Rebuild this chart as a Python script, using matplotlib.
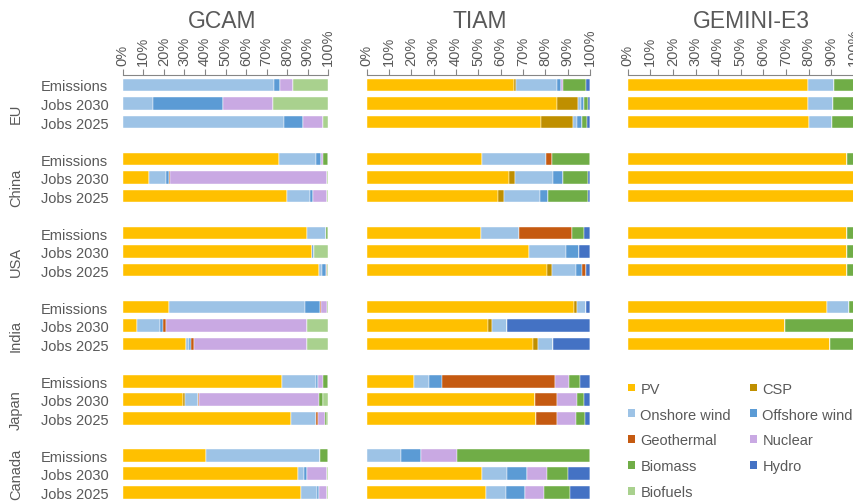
import matplotlib
matplotlib.use("Agg")
import matplotlib.pyplot as plt
from matplotlib.patches import Patch
from matplotlib.transforms import blended_transform_factory

plt.rcParams['font.family'] = ['Liberation Sans', 'DejaVu Sans']

# technologies, in stacking order
techs = ['PV', 'CSP', 'Onshore wind', 'Offshore wind', 'Geothermal',
         'Nuclear', 'Biomass', 'Hydro', 'Biofuels']
colors = ['#FFC000', '#BF8F00', '#9DC3E6', '#5B9BD5', '#C55A11',
          '#C9A9E3', '#70AD47', '#4472C4', '#A9D18E']

regions = ['EU', 'China', 'USA', 'India', 'Japan', 'Canada']
bar_labels = ['Emissions', 'Jobs 2030', 'Jobs 2025']

# shares in %, one row per bar (region x [Emissions, Jobs 2030, Jobs 2025]),
# columns follow techs
gcam_shares = [
    [0, 0, 73.7, 2.8, 0, 6.3, 0, 0, 17.2],
    [0, 0, 14.6, 34.2, 0, 24.5, 0, 0, 26.7],
    [0, 0, 78.3, 9.4, 0, 9.5, 0, 0, 2.8],
    [76.2, 0, 18.0, 2.1, 0.3, 1.0, 2.4, 0, 0],
    [12.6, 0, 8.6, 1.1, 0.8, 76.3, 0, 0, 0.6],
    [80.1, 0, 11.1, 1.2, 0.4, 6.8, 0, 0, 0.4],
    [89.6, 0, 9.3, 0, 0, 0, 1.1, 0, 0],
    [91.9, 0, 0, 1.1, 0, 0, 0, 0, 7.0],
    [95.6, 0, 1.1, 2.0, 0.7, 0, 0, 0, 0.6],
    [22.5, 0, 66.2, 7.3, 0.6, 2.6, 0.8, 0, 0],
    [7.0, 0, 11.3, 1.5, 1.3, 68.5, 0, 0, 10.4],
    [30.8, 0, 1.3, 1.0, 1.6, 54.9, 0, 0, 10.4],
    [77.5, 0, 16.7, 0.6, 0, 2.4, 2.8, 0, 0],
    [29.5, 0.8, 6.2, 0, 0.6, 58.5, 2.0, 0, 2.4],
    [82.0, 0, 12.2, 0, 0.8, 3.6, 0.8, 0, 0.6],
    [40.5, 0, 55.4, 0, 0, 0, 4.1, 0, 0],
    [85.1, 0, 3.2, 1.5, 0, 9.7, 0, 0, 0.5],
    [86.5, 0, 8.0, 1.0, 0, 4.0, 0, 0, 0.5],
]

tiam_shares = [
    [66.0, 0.7, 18.7, 1.6, 0, 1.0, 10.2, 1.8, 0],
    [85.4, 9.2, 1.2, 1.6, 0, 0, 1.7, 0.9, 0],
    [78.2, 14.3, 1.6, 2.5, 0, 0, 1.9, 1.5, 0],
    [51.5, 0, 28.8, 0, 2.7, 0, 17.0, 0, 0],
    [63.9, 2.5, 17.0, 4.6, 0, 0, 11.0, 1.0, 0],
    [58.8, 2.7, 16.1, 3.4, 0, 0, 18.0, 1.0, 0],
    [51.3, 0, 16.9, 0, 23.6, 0, 5.5, 2.7, 0],
    [72.7, 0, 16.7, 5.7, 0, 0, 0, 4.9, 0],
    [80.7, 2.3, 10.6, 3.0, 1.5, 0, 0, 1.9, 0],
    [92.7, 1.6, 3.9, 0, 0, 0, 0, 1.8, 0],
    [54.3, 1.8, 6.6, 0, 0, 0, 0, 37.3, 0],
    [74.6, 2.1, 6.6, 0, 0, 0, 0, 16.7, 0],
    [21.2, 0, 6.7, 6.0, 50.6, 6.3, 4.6, 4.6, 0],
    [75.4, 0, 0, 0, 9.7, 9.1, 3.3, 2.5, 0],
    [75.8, 0, 0, 0, 9.6, 8.4, 4.0, 2.2, 0],
    [0, 0, 15.4, 9.0, 0, 16.1, 59.5, 0, 0],
    [51.8, 0, 11.0, 8.8, 0, 9.0, 9.5, 9.9, 0],
    [53.3, 0, 9.0, 8.7, 0, 8.5, 11.7, 8.8, 0],
]

# GEMINI-E3 has no Japan / Canada
gemini_shares = [
    [79.6, 0, 11.8, 0, 0, 0, 8.6, 0, 0],
    [79.6, 0, 11.4, 0, 0, 0, 9.0, 0, 0],
    [80.1, 0, 10.4, 0, 0, 0, 9.5, 0, 0],
    [97.0, 0, 0, 0, 0, 0, 3.0, 0, 0],
    [100.0, 0, 0, 0, 0, 0, 0, 0, 0],
    [100.0, 0, 0, 0, 0, 0, 0, 0, 0],
    [97.0, 0, 0, 0, 0, 0, 3.0, 0, 0],
    [97.0, 0, 0, 0, 0, 0, 3.0, 0, 0],
    [97.0, 0, 0, 0, 0, 0, 3.0, 0, 0],
    [88.2, 0, 9.9, 0, 0, 0, 1.9, 0, 0],
    [69.6, 0, 0, 0, 0, 0, 30.4, 0, 0],
    [89.4, 0, 0, 0, 0, 0, 10.6, 0, 0],
]

models = ['GCAM', 'TIAM', 'GEMINI-E3']
all_shares = [gcam_shares, tiam_shares, gemini_shares]

text_col = '#595959'
axis_col = '#868686'
W, H = 854, 502

fig = plt.figure(figsize=(W / 100, H / 100), dpi=100)

# axes boxes in pixels: left, right
ax_px = [(122.7, 328.3), (366.7, 590.0), (627.7, 853.7)]
title_x = [222, 480, 751]
top_px = 76

ypos = [4 * (r // 3) + r % 3 for r in range(3 * len(regions))]
# group label centres (last one pulled up so it fits in the figure)
region_y = [1.5, 5.5, 9.5, 13.5, 17.5, 21.0]

for k, (model, shares) in enumerate(zip(models, all_shares)):
    l, r = ax_px[k]
    ax = fig.add_axes([l / W, 0, (r - l) / W, 1 - top_px / H])
    ys = ypos[:len(shares)]
    left = [0.0] * len(shares)
    for j, tech in enumerate(techs):
        vals = [row[j] for row in shares]
        ax.barh(ys, vals, left=left, height=0.68, color=colors[j],
                edgecolor='white', linewidth=0.3)
        left = [a + b for a, b in zip(left, vals)]

    ax.set_xlim(0, 100)
    ax.set_ylim(22.47, -0.54)
    ax.xaxis.tick_top()
    ax.set_xticks(range(0, 101, 10))
    ax.set_xticklabels([f'{v}%' for v in range(0, 101, 10)], rotation=90,
                       fontsize=10.5, color=text_col)
    ax.tick_params(axis='x', length=4, width=0.8, color=axis_col, pad=3)
    for s in ['left', 'right', 'bottom']:
        ax.spines[s].set_visible(False)
    ax.spines['top'].set_color(axis_col)
    ax.spines['top'].set_linewidth(0.8)

    if k == 0:
        ax.set_yticks(ypos)
        ax.set_yticklabels(bar_labels * len(regions), fontsize=10.5,
                           color=text_col)
        ax.tick_params(axis='y', length=0, pad=10.4)
        trans = blended_transform_factory(fig.transFigure, ax.transData)
        for reg, yc in zip(regions, region_y):
            ax.text(16 / W, yc, reg, transform=trans, rotation=90,
                    ha='center', va='center', fontsize=10.5, color=text_col)
    else:
        ax.set_yticks([])

    fig.text(title_x[k] / W, 1 - 21 / H, model, ha='center', va='center',
             fontsize=16.5, color=text_col)

# legend, filled row by row like the original
order = [0, 2, 4, 6, 8, 1, 3, 5, 7]
handles = [Patch(facecolor=colors[i], label=techs[i]) for i in order]
fig.legend(handles=handles, loc='upper left',
           bbox_to_anchor=(628 / W, 1 - 382.7 / H), ncol=2, frameon=False,
           fontsize=10.5, handlelength=0.45, handleheight=0.45,
           handletextpad=0.4, columnspacing=1.3, labelspacing=0.81,
           borderpad=0, borderaxespad=0, labelcolor=text_col)

fig.savefig('out.png', dpi=100)
